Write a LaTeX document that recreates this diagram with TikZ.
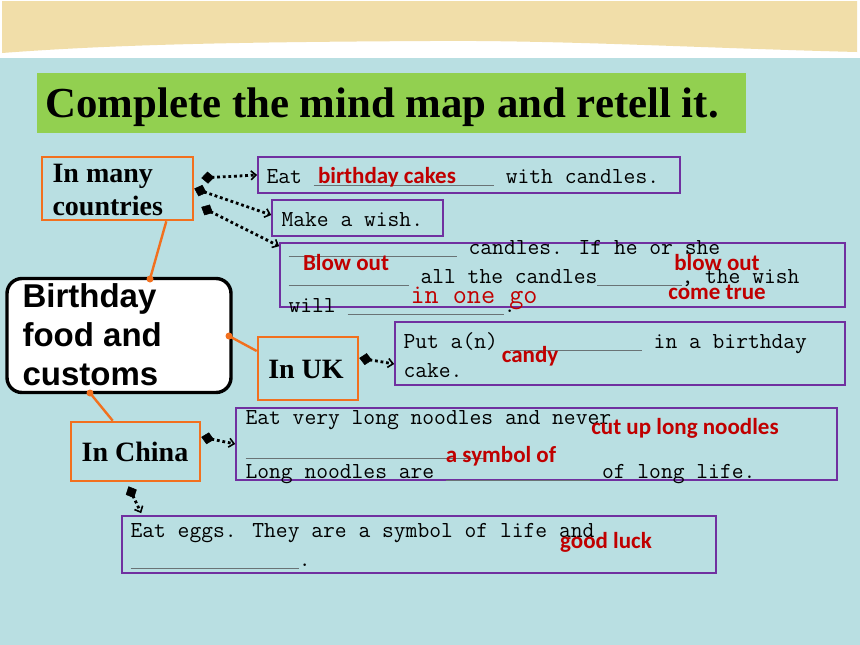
\documentclass[tikz,border=0pt]{standalone}
\usepackage{fontspec}
\setmainfont{Liberation Serif}
\newfontfamily\arialfont{Liberation Sans}
\newfontfamily\calibrifont{Carlito}
\usetikzlibrary{arrows.meta}

\definecolor{slideblue}{RGB}{185,223,226}
\definecolor{bandbeige}{RGB}{241,222,169}
\definecolor{titlegreen}{RGB}{146,208,80}
\definecolor{maporange}{RGB}{242,112,30}
\definecolor{boxpurple}{RGB}{112,48,160}
\definecolor{answerred}{RGB}{192,0,0}
\definecolor{blankgray}{RGB}{105,115,117}

\newcommand\gap[1]{{\color{blankgray}\rule[-2.6pt]{\dimexpr 12.02pt*#1\relax}{1.1pt}}}

\tikzset{every path/.style={line width=1.1pt}}
\tikzset{
  topic/.style={draw=maporange,line width=2.6pt,inner sep=0pt},
  fact/.style={draw=boxpurple,line width=1.6pt,inner sep=0pt},
  line/.style={anchor=base west,inner sep=0pt,font=\ttfamily\fontsize{22.9}{28}\selectfont},
  answer/.style={inner sep=0pt,text=answerred,font=\calibrifont\bfseries\fontsize{23}{26}\selectfont},
  branch/.style={draw=maporange,line width=2.4pt},
  hub/.style={circle,fill=maporange,inner sep=0pt,minimum size=7pt},
  pointer/.style={line width=2.8pt,dash pattern=on 2.8pt off 2.8pt,
    {Diamond[length=13pt,width=12pt,line width=0.5pt]}-{Straight Barb[length=5pt,width=9pt,line width=1.6pt]}}
}

\begin{document}
\begin{tikzpicture}[x=1pt,y=-1pt]
  \useasboundingbox (0,0) rectangle (860,645);
  % slide background
  \fill[white] (0,0) rectangle (860,645);
  \fill[slideblue] (0,58) rectangle (860,645);
  \fill[bandbeige] (2,1) -- (857,1) -- (857,52) .. controls (700,48) and (560,40) .. (430,41)
    .. controls (250,42) and (120,44) .. (2,53) -- cycle;

  % title
  \node[fill=titlegreen,minimum width=709pt,minimum height=60pt,anchor=north west,inner sep=0pt] (title) at (36,72) {};
  \node[anchor=base west,inner sep=0pt,font=\bfseries\fontsize{42.8}{46}\selectfont] (titleT) at (45,117) {Complete the mind map and retell it.};

  % centre
  \node[draw,line width=3.4pt,rounded corners=15pt,fill=white,minimum width=224pt,minimum height=114pt] (birth) at (119,335.5) {};
  \node[anchor=base west,inner sep=0pt,align=left,font=\arialfont\bfseries\fontsize{33}{39}\selectfont] (birthT) at (22,385) {Birthday\\food and\\customs};

  % places
  \node[topic,minimum width=151pt,minimum height=63pt] (many) at (117.5,188.5) {};
  \node[anchor=base west,inner sep=0pt,align=left,font=\bfseries\fontsize{28}{33}\selectfont] (manyT) at (52,215) {In many\\countries};
  \node[topic,minimum width=100pt,minimum height=63pt] (uk) at (308,368.5) {};
  \node[inner sep=0pt,font=\bfseries\fontsize{28}{34}\selectfont] (ukT) at (306,369) {In UK};
  \node[topic,minimum width=129pt,minimum height=59pt] (china) at (135.5,451.5) {};
  \node[inner sep=0pt,font=\bfseries\fontsize{28}{34}\selectfont] (chinaT) at (135,452) {In China};

  \draw[branch] (many.south east) ++(-28pt,0) coordinate (manyB) (manyB) -- (150,279) node[hub] (hubA) {};
  \draw[branch] (uk.west) ++(0,17.5pt) coordinate (ukB) (ukB) -- (229,336) node[hub] (hubB) {};
  \draw[branch] (china.north west) ++(43pt,0) coordinate (chinaB) (chinaB) -- (90,393) node[hub] (hubC) {};

  % facts
  \node[fact,minimum width=422pt,minimum height=36pt] (cake) at (469,175) {};
  \node[line] (cakeT) at (266,183) {Eat \gap{15} with candles.};
  \node[answer] (cakeA) at (387,177) {birthday cakes};

  \node[fact,minimum width=171pt,minimum height=36pt] (wish) at (357.5,218) {};
  \node[line] (wishT) at (281,226) {Make a wish.};

  \node[fact,minimum width=565pt,minimum height=64pt] (blow) at (562.5,275) {};
  \node[line] (blowT1) at (288,254) {\gap{14} candles. If he or she};
  \node[line] (blowT2) at (288,283) {\gap{10} all the candles\gap{7}, the wish};
  \node[line] (blowT3) at (288,312) {will \gap{13}.};
  \node[answer] (blowA1) at (346,263) {Blow out};
  \node[answer] (blowA2) at (717,263) {blow out};
  \node[answer] (blowA3) at (717,292) {come true};
  \node[anchor=base west,inner sep=0pt,text=answerred,font=\ttfamily\fontsize{27.4}{30}\selectfont] (blowA4) at (410,303) {in one go};

  \node[fact,minimum width=450pt,minimum height=63pt] (candy) at (620,353.5) {};
  \node[line] (candyT1) at (403,348) {Put a(n) \gap{11} in a birthday};
  \node[line] (candyT2) at (403,377) {cake.};
  \node[answer] (candyA) at (530,356) {candy};

  \node[fact,minimum width=601pt,minimum height=72pt] (noodle) at (536.5,444) {};
  \node[line] (noodleT1) at (245,424) {Eat very long noodles and never};
  \node[line] (noodleT2) at (245,456) {\gap{20}.};
  \node[line] (noodleT3) at (245,478) {Long noodles are \gap{12} of long life.};
  \node[answer] (noodleA1) at (685,428) {cut up long noodles};
  \node[answer] (noodleA2) at (501,456) {a symbol of};

  \node[fact,minimum width=594pt,minimum height=57pt] (egg) at (419,544.5) {};
  \node[line] (eggT1) at (130,537) {Eat eggs. They are a symbol of life and};
  \node[line] (eggT2) at (130,566) {\gap{14}.};
  \node[answer] (eggA) at (606,542) {good luck};

  % pointers
  \draw[pointer] ([xshift=7pt,yshift=10.5pt]many.east) -- (cake.west);
  \draw[pointer] (many.east) -- ([yshift=3pt]wish.west);
  \draw[pointer] ([xshift=7pt,yshift=-18.5pt]many.east) -- ([yshift=-4pt]blow.north west);
  \draw[pointer] ([yshift=10.5pt]uk.east) -- ([yshift=-10.5pt]candy.west);
  \draw[pointer] ([yshift=14.5pt]china.east) -- (noodle.west);
  \draw[pointer] ([xshift=-7pt,yshift=-4pt]china.south) -- ([xshift=20pt,yshift=2pt]egg.north west);
\end{tikzpicture}
\end{document}
